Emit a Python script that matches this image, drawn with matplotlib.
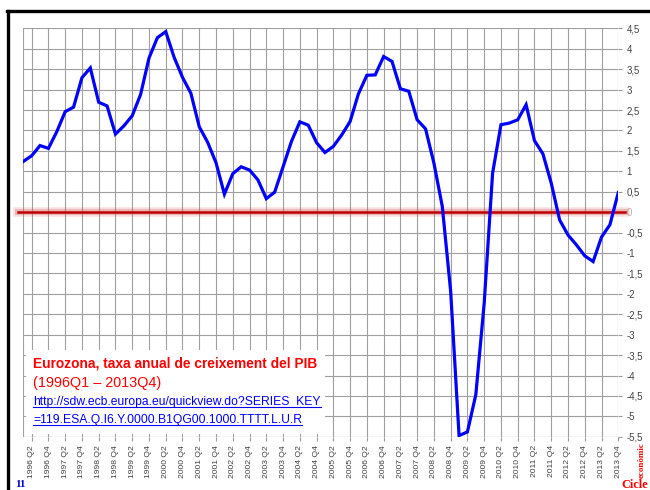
import numpy as np
import matplotlib.pyplot as plt
from matplotlib.lines import Line2D
from matplotlib.patches import Rectangle

# Eurozone GDP, annual growth rate (%), 1996Q1 - 2013Q4
quarters = [f"{y} Q{q}" for y in range(1996, 2014) for q in range(1, 5)]
growth = [1.24, 1.38, 1.63, 1.56, 1.97, 2.46, 2.57, 3.29,
          3.53, 2.69, 2.60, 1.91, 2.11, 2.36, 2.88, 3.77,
          4.27, 4.42, 3.79, 3.30, 2.91, 2.09, 1.71, 1.21,
          0.44, 0.94, 1.11, 1.03, 0.79, 0.33, 0.49, 1.11,
          1.73, 2.21, 2.13, 1.70, 1.46, 1.61, 1.89, 2.22,
          2.90, 3.35, 3.36, 3.81, 3.69, 3.02, 2.96, 2.26,
          2.04, 1.20, 0.14, -1.94, -5.47, -5.38, -4.47, -2.23,
          0.95, 2.14, 2.18, 2.26, 2.63, 1.75, 1.43, 0.71,
          -0.19, -0.56, -0.80, -1.07, -1.21, -0.61, -0.31, 0.48]
y_ticks = np.arange(-5.5, 4.51, 0.5)

fig = plt.figure(figsize=(6.5, 4.9), dpi=100)
ax = fig.add_axes([0.0358, 0.1086, 0.9154, 0.8336])

x = np.arange(len(growth))
ax.plot(x, growth, color='#0000ff', lw=2.3, zorder=6, solid_joinstyle='miter')

# zero line with a soft shadow
for lw, a, c in [(7, 0.18, '#e07070'), (4.5, 0.3, '#d05050')]:
    ax.axhline(0, xmin=-0.009, xmax=1.011, color=c, lw=lw, alpha=a, clip_on=False, zorder=4)
ax.axhline(0, xmin=-0.009, xmax=1.011, color='#c00000', lw=1.8, clip_on=False, zorder=5)

ax.set_xlim(0, len(growth) - 1)
ax.set_ylim(-5.5, 4.5)
ax.set_xticks(x[1::2])
ax.set_xticklabels(quarters[1::2], rotation=90, fontsize=6.1, color='#404040',
                   family='Liberation Sans')
ax.set_yticks(y_ticks)
ax.set_yticklabels([f"{v:g}".replace('.', ',') for v in y_ticks], fontsize=6.9,
                   color='#404040', family='Liberation Sans')
ax.yaxis.tick_right()
ax.tick_params(axis='both', length=3, width=0.8, color='#999999')
ax.tick_params(axis='x', pad=3)
ax.tick_params(axis='y', pad=3)
for lab in ax.get_yticklabels():
    if lab.get_text() == '0':
        lab.set_color('#b0b0b0')

ax.grid(True, color='#a0a0a0', lw=0.8)
ax.axvline(0, color='#a0a0a0', lw=0.8)
ax.axhline(-5.5, color='#a0a0a0', lw=0.8, zorder=0.5)
ax.set_axisbelow(True)
for s in ax.spines.values():
    s.set_visible(False)

# text box
ax.add_patch(Rectangle((0.004, 0.006), 0.503, 0.207, transform=ax.transAxes,
                       facecolor='white', edgecolor='none', zorder=3))
ax.text(0.0165, 0.196, 'Eurozona, taxa anual de creixement del PIB', transform=ax.transAxes,
        color='#ff0000', fontsize=9.9, fontweight='bold', family='Liberation Sans',
        va='top', zorder=7)
ax.text(0.0165, 0.148, '(1996Q1 – 2013Q4)', transform=ax.transAxes,
        color='#ff0000', fontsize=10.4, family='Liberation Sans', va='top', zorder=7)
links = []
links.append(ax.text(0.0165, 0.099, 'http://sdw.ecb.europa.eu/quickview.do?SERIES_KEY',
                     transform=ax.transAxes, color='#0000ff', fontsize=8.75,
                     family='Liberation Sans', va='top', zorder=7))
links.append(ax.text(0.0165, 0.057, '=119.ESA.Q.I6.Y.0000.B1QG00.1000.TTTT.L.U.R',
                     transform=ax.transAxes, color='#0000ff', fontsize=8.75,
                     family='Liberation Sans', va='top', zorder=7))

fig.canvas.draw()
r = fig.canvas.get_renderer()
for t in links:
    bb = t.get_window_extent(r)
    fig.add_artist(Line2D([bb.x0, bb.x1], [bb.y0 + 1, bb.y0 + 1], transform=None,
                          color='#0000ff', lw=0.8))

# slide frame and footer
fig.add_artist(Line2D([7.5 / 650, 7.5 / 650], [0, 1 - 11 / 490], color='black', lw=2.4))
fig.add_artist(Line2D([6.5 / 650, 1], [1 - 11 / 490, 1 - 11 / 490], color='black', lw=2.4))
fig.text(15 / 650, 1 - 484 / 490, '11', color='#0000cc', fontsize=8, fontweight='bold',
         family='Liberation Serif', va='center')
fig.text(621 / 650, 1 - 484.5 / 490, 'Cicle', color='#ff0000', fontsize=8.8, fontweight='bold',
         family='Liberation Serif', va='center')
fig.text(638 / 650, 1 - 478 / 490, 'econòmic', color='#ff0000', fontsize=6.5, fontweight='bold',
         family='Liberation Serif', rotation=90, va='bottom')

fig.savefig('out.png', dpi=100)
